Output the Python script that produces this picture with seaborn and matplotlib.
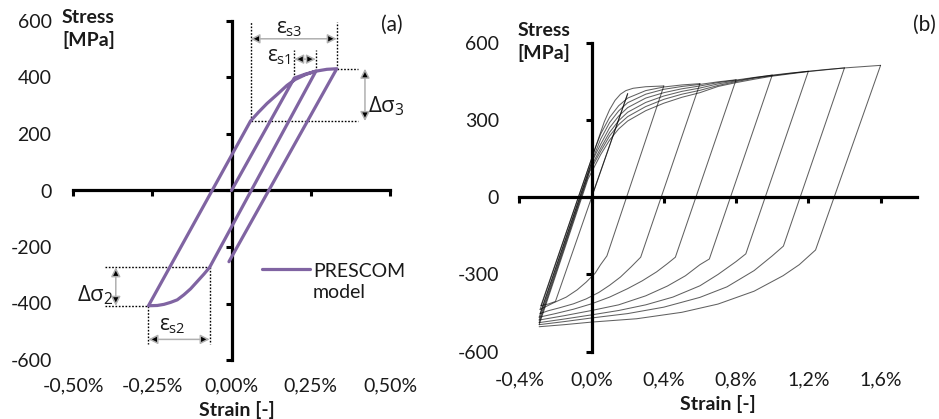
import matplotlib
matplotlib.use("Agg")
import matplotlib.pyplot as plt
from matplotlib.lines import Line2D
import numpy as np
import pandas as pd
import seaborn as sns

# ---------------- data: panel (a) PRESCOM model loop ----------------
a_strain = [0.0, 0.198, 0.233, 0.266,
            -0.069,
            -0.087, -0.108, -0.129, -0.150, -0.171, -0.192, -0.213, -0.234, -0.262,
            0.060, 0.086, 0.112, 0.144, 0.175, 0.201, 0.233, 0.264, 0.301, 0.332,
            -0.008]
a_stress = [0, 398, 412, 422,
            -272,
            -296, -322, -348, -369, -387, -396, -403, -407, -408,
            246, 278, 308, 340, 372, 393, 410, 422, 429, 431,
            -252]
a_xticks = [-0.5, -0.25, 0.0, 0.25, 0.5]
a_xticklabels = ["-0,50%", "-0,25%", "0,00%", "0,25%", "0,50%"]
a_yticks = [-600, -400, -200, 0, 200, 400, 600]
a_yticklabels = ["-600", "-400", "-200", "0", "200", "400", "600"]

# ---------------- data: panel (b) cyclic test ----------------
b_peak_strain = [0.2, 0.4, 0.6, 0.8, 1.0, 1.2, 1.4, 1.6]
b_peak_stress = [402, 432, 441, 456, 474, 489, 502, 512]
b_knee_strain = [-0.20, 0.085, 0.272, 0.464, 0.652, 0.854, 1.062, 1.240]
b_knee_stress = [-405, -228, -233, -233, -240, -220, -190, -205]
b_rev_strain = [-0.28, -0.285, -0.285, -0.29, -0.29, -0.29, -0.29, -0.29]
b_rev_stress = [-421, -436, -452, -466, -477, -487, -495, -503]

b_reload_strain = [
    [],
    [0.07, 0.10, 0.13, 0.16, 0.19, 0.23, 0.30],
    [0.02, 0.05, 0.10, 0.15, 0.20, 0.30, 0.40, 0.50],
    [0.01, 0.05, 0.10, 0.15, 0.20, 0.30, 0.40, 0.50, 0.60, 0.70],
    [0.0, 0.05, 0.10, 0.15, 0.20, 0.30, 0.40, 0.50, 0.60, 0.70, 0.80, 0.90],
    [-0.005, 0.05, 0.10, 0.15, 0.20, 0.30, 0.40, 0.50, 0.60, 0.70, 0.80, 0.90, 1.00, 1.10],
    [-0.01, 0.05, 0.10, 0.15, 0.20, 0.30, 0.40, 0.50, 0.60, 0.70, 0.80, 0.90, 1.00, 1.10, 1.20, 1.30],
    [-0.02, 0.05, 0.10, 0.15, 0.20, 0.30, 0.40, 0.50, 0.60, 0.70, 0.80, 0.90, 1.00, 1.10, 1.20, 1.30, 1.40, 1.50],
]
b_reload_stress = [
    [],
    [292, 340, 376, 400, 414, 423, 429],
    [190, 245, 310, 355, 385, 414, 428, 436],
    [155, 225, 290, 335, 367, 400, 419, 430, 438, 448],
    [135, 205, 270, 315, 348, 385, 406, 421, 432, 445, 455, 465],
    [115, 190, 252, 297, 330, 368, 393, 411, 424, 440, 452, 464, 474, 482],
    [100, 178, 238, 282, 313, 352, 380, 400, 415, 434, 449, 462, 472, 481, 489, 496],
    [70, 165, 222, 265, 296, 336, 365, 388, 406, 430, 445, 458, 470, 479, 488, 495, 502, 507],
]
b_soft_strain = [
    [-0.24],
    [0.05, 0.02, -0.03, -0.08, -0.14, -0.21],
    [0.22, 0.16, 0.10, 0.04, -0.03, -0.10, -0.18, -0.24],
    [0.42, 0.36, 0.28, 0.20, 0.10, 0.0, -0.10, -0.20],
    [0.60, 0.52, 0.42, 0.30, 0.15, 0.0, -0.15],
    [0.80, 0.70, 0.60, 0.45, 0.30, 0.15, 0.0, -0.15],
    [1.00, 0.90, 0.75, 0.60, 0.40, 0.20, 0.0, -0.15],
    [1.15, 1.06, 0.90, 0.70, 0.50, 0.25, 0.0, -0.15],
]
b_soft_stress = [
    [-415],
    [-262, -295, -330, -360, -388, -410],
    [-270, -310, -342, -370, -395, -414, -430, -441],
    [-258, -290, -325, -355, -388, -414, -435, -452],
    [-262, -305, -345, -383, -418, -440, -460],
    [-250, -300, -344, -388, -418, -440, -457, -473],
    [-228, -285, -348, -389, -427, -452, -469, -483],
    [-262, -305, -365, -415, -447, -472, -485, -495],
]
b_xticks = [-0.4, 0.0, 0.4, 0.8, 1.2, 1.6]
b_xticklabels = ["-0,4%", "0,0%", "0,4%", "0,8%", "1,2%", "1,6%"]
b_yticks = [-600, -300, 0, 300, 600]
b_yticklabels = ["-600", "-300", "0", "300", "600"]

# ---------------- style ----------------
sns.set_style("white")
plt.rcParams["font.family"] = ["Lato", "DejaVu Sans"]
plt.rcParams["mathtext.fontset"] = "custom"
plt.rcParams["mathtext.rm"] = "Open Sans"
plt.rcParams["mathtext.it"] = "Open Sans"
plt.rcParams["mathtext.bf"] = "Open Sans:bold"

TXT = "#1a1a1a"
PURPLE = "#8064A2"
W, H = 939, 419
FS = 14

fig = plt.figure(figsize=(W / 100, H / 100), dpi=100)
fig.patch.set_facecolor("white")


def px_axes(x0, x1, ytop, ybot):
    return fig.add_axes([x0 / W, (H - ybot) / H, (x1 - x0) / W, (ybot - ytop) / H])


def style_axes(ax, ypad, xpad):
    for s in ["top", "right"]:
        ax.spines[s].set_visible(False)
    for s in ["left", "bottom"]:
        ax.spines[s].set_position(("data", 0))
        ax.spines[s].set_linewidth(2.3)
        ax.spines[s].set_color("black")
    ax.tick_params(axis="both", which="major", bottom=True, left=True, top=False, right=False,
                   direction="out", length=4.5, width=2.2, color="black",
                   labelsize=FS, labelcolor=TXT)
    ax.tick_params(axis="y", pad=ypad)
    ax.tick_params(axis="x", pad=xpad)
    ax.set_facecolor("none")


# ================= panel (a) =================
ax_a = px_axes(73, 390, 21, 360)
sns.lineplot(x=a_strain, y=a_stress, sort=False, estimator=None, ax=ax_a,
             color=PURPLE, lw=2.3, zorder=3)
ax_a.set_xlim(-0.5, 0.5)
ax_a.set_ylim(-600, 600)
ax_a.set_xticks(a_xticks)
ax_a.set_xticklabels(a_xticklabels)
ax_a.set_yticks(a_yticks)
ax_a.set_yticklabels(a_yticklabels)
style_axes(ax_a, ypad=125, xpad=130)
ax_a.set_xlabel("Strain [-]", fontsize=FS, fontweight="bold", color=TXT, va="center")
ax_a.xaxis.set_label_coords(0.517, -0.147)
ax_a.set_ylabel("Stress\n[MPa]", fontsize=FS, fontweight="bold", color=TXT,
                rotation=0, ha="left", va="top", linespacing=1.35)
ax_a.yaxis.set_label_coords(-0.035, 1.035)

# key points of the loop (taken from the data arrays)
e_y1, s_y1 = a_strain[1], a_stress[1]       # end of first elastic loading
e_p1, s_p1 = a_strain[3], a_stress[3]       # first peak
e_k2, s_k2 = a_strain[4], a_stress[4]       # compression knee
e_m2, s_m2 = a_strain[13], a_stress[13]     # compression minimum
e_k3, s_k3 = a_strain[14], a_stress[14]     # reloading knee
e_p3, s_p3 = a_strain[23], a_stress[23]     # final peak

dot = dict(color="black", lw=1.0, ls=(0, (1.2, 1.2)), zorder=2)
ax_a.plot([e_k3, e_k3], [s_k3, 598], **dot)
ax_a.plot([e_p3, e_p3], [s_p3, 598], **dot)
ax_a.plot([e_y1, e_y1], [s_y1, 498], **dot)
ax_a.plot([e_p1, e_p1], [s_p1, 498], **dot)
ax_a.plot([e_p3, 0.40], [s_p3, s_p3], **dot)
ax_a.plot([e_k3, 0.40], [s_k3, s_k3], **dot)
ax_a.plot([-0.40, e_k2], [s_k2, s_k2], **dot)
ax_a.plot([-0.40, e_m2], [s_m2, s_m2], **dot)
ax_a.plot([e_m2, e_m2], [s_m2, -545], **dot)
ax_a.plot([e_k2, e_k2], [s_k2, -545], **dot)

arr = dict(arrowstyle="<|-|>,head_length=0.55,head_width=0.28", fc="black",
           ec="#b0b0b0", lw=1.1, shrinkA=0, shrinkB=0)
ax_a.annotate("", xy=(e_p3, 537), xytext=(e_k3, 537), arrowprops=arr)
ax_a.annotate("", xy=(e_p1, 465), xytext=(e_y1, 465), arrowprops=arr)
ax_a.annotate("", xy=(0.421, s_p3), xytext=(0.421, s_k3), arrowprops=arr)
ax_a.annotate("", xy=(-0.365, s_k2), xytext=(-0.365, s_m2), arrowprops=arr)
ax_a.annotate("", xy=(e_k2, -527), xytext=(e_m2, -527), arrowprops=arr)

ax_a.text(0.182, 572, r"$\varepsilon_{s3}$", fontsize=15, color=TXT, ha="center", va="center")
ax_a.text(0.150, 472, r"$\varepsilon_{s1}$", fontsize=15, color=TXT, ha="center", va="center")
ax_a.text(-0.187, -480, r"$\varepsilon_{s2}$", fontsize=15, color=TXT, ha="center", va="center")
ax_a.text(0.432, 298, r"$\Delta\sigma_{3}$", fontsize=16, color=TXT, ha="left", va="center")
ax_a.text(-0.372, -372, r"$\Delta\sigma_{2}$", fontsize=16, color=TXT, ha="right", va="center")

leg = ax_a.legend(handles=[Line2D([], [], color=PURPLE, lw=2.3)], labels=["PRESCOM\nmodel"],
                  frameon=False, loc="upper left", bbox_to_anchor=(0.597, 0.285),
                  borderpad=0, borderaxespad=0, handlelength=2.45, handletextpad=0.15,
                  fontsize=FS, labelcolor=TXT)
for t in leg.get_texts():
    t.set_linespacing(1.25)
for ln in leg.get_lines():
    ln.set_ydata(np.asarray(ln.get_ydata()) + 9.5)

fig.text(392 / W, 1 - 25 / H, "(a)", fontsize=FS + 1, color=TXT, ha="center", va="center")

# ================= panel (b) =================
rows = []
unit = 0
for e, s in [(0.0, 0.0), (b_peak_strain[0], b_peak_stress[0])]:
    rows.append((unit, e, s))
unit += 1
pts = [(b_peak_strain[0], b_peak_stress[0]), (b_knee_strain[0], b_knee_stress[0])]
pts += list(zip(b_soft_strain[0], b_soft_stress[0]))
pts += [(b_rev_strain[0], b_rev_stress[0])]
for e, s in pts:
    rows.append((unit, e, s))
for k in range(1, len(b_peak_strain)):
    unit += 1
    pts = [(b_rev_strain[k - 1], b_rev_stress[k - 1])]
    pts += list(zip(b_reload_strain[k], b_reload_stress[k]))
    pts += [(b_peak_strain[k], b_peak_stress[k])]
    for e, s in pts:
        rows.append((unit, e, s))
    unit += 1
    pts = [(b_peak_strain[k], b_peak_stress[k]), (b_knee_strain[k], b_knee_stress[k])]
    pts += list(zip(b_soft_strain[k], b_soft_stress[k]))
    pts += [(b_rev_strain[k], b_rev_stress[k])]
    for e, s in pts:
        rows.append((unit, e, s))
df_b = pd.DataFrame(rows, columns=["unit", "strain", "stress"])

ax_b = px_axes(519.3, 916.7, 42.7, 351.7)
sns.lineplot(data=df_b, x="strain", y="stress", units="unit", estimator=None, sort=False,
             ax=ax_b, color="black", alpha=0.62, lw=0.75, zorder=3)
ax_b.set_xlim(-0.4, 1.8)
ax_b.set_ylim(-600, 600)
ax_b.set_xticks(b_xticks)
ax_b.set_xticklabels(b_xticklabels)
ax_b.set_yticks(b_yticks)
ax_b.set_yticklabels(b_yticklabels)
style_axes(ax_b, ypad=62, xpad=121)
ax_b.set_xlabel("Strain [-]", fontsize=FS, fontweight="bold", color=TXT, va="center")
ax_b.xaxis.set_label_coords(0.50, -0.169)
ax_b.set_ylabel("Stress\n[MPa]", fontsize=FS, fontweight="bold", color=TXT,
                rotation=0, ha="left", va="top", linespacing=1.35)
ax_b.yaxis.set_label_coords(-0.004, 1.068)

fig.text(936 / W, 1 - 25 / H, "(b)", fontsize=FS + 1, color=TXT, ha="right", va="center")

fig.savefig("out.png", dpi=100, facecolor="white")
